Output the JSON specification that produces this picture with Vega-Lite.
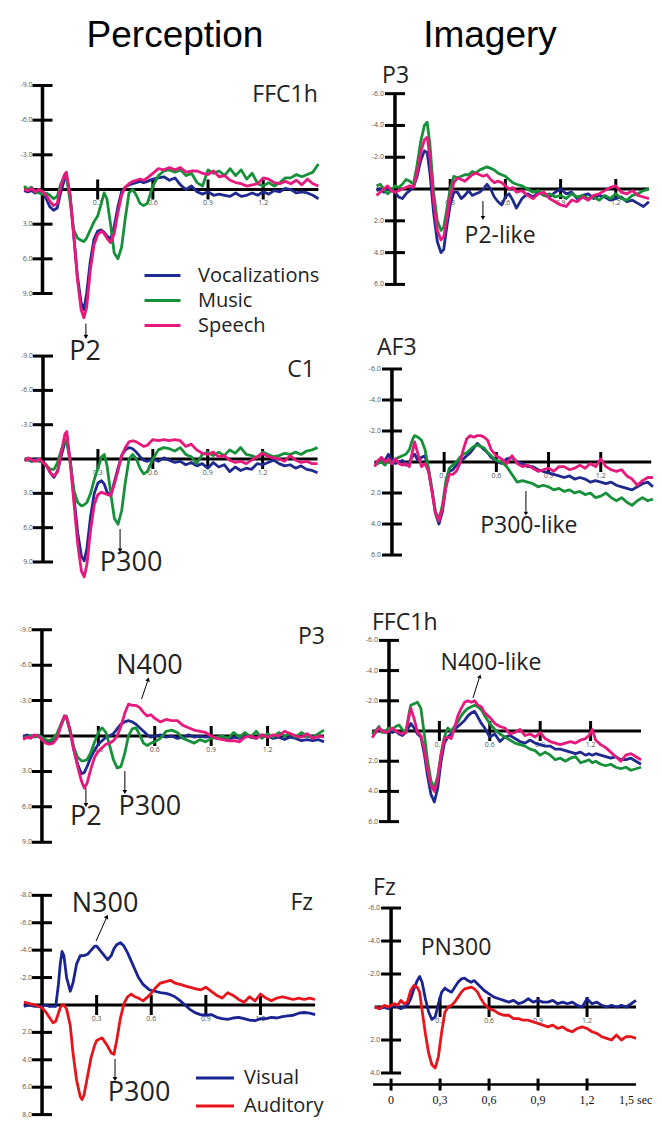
{
"$schema":"https://vega.github.io/schema/vega-lite/v6.json",
"padding":{"top":17,"left":0,"right":0,"bottom":0},
"config":{"view":{"stroke":null},"text":{"font":"Open Sans"}},
"datasets":{
"y9":[{"v":-9,"lab":"-9.0"},{"v":-6,"lab":"-6.0"},{"v":-3,"lab":"-3.0"},{"v":3,"lab":"3.0"},{"v":6,"lab":"6.0"},{"v":9,"lab":"9.0"}],
"y8":[{"v":-8,"lab":"-8.0"},{"v":-6,"lab":"-6.0"},{"v":-4,"lab":"-4.0"},{"v":-2,"lab":"-2.0"},{"v":2,"lab":"2.0"},{"v":4,"lab":"4.0"},{"v":6,"lab":"6.0"},{"v":8,"lab":"8.0"}],
"y6":[{"v":-6,"lab":"-6.0"},{"v":-4,"lab":"-4.0"},{"v":-2,"lab":"-2.0"},{"v":2,"lab":"2.0"},{"v":4,"lab":"4.0"},{"v":6,"lab":"6.0"}],
"y64":[{"v":-6,"lab":"-6.0"},{"v":-4,"lab":"-4.0"},{"v":-2,"lab":"-2.0"},{"v":2,"lab":"2.0"},{"v":4,"lab":"4.0"}],
"xt":[{"t":0.3,"lab":"0.3"},{"t":0.6,"lab":"0.6"},{"t":0.9,"lab":"0.9"},{"t":1.2,"lab":"1.2"}],
"xb":[{"t":0,"lab":"0"},{"t":0.3,"lab":"0,3"},{"t":0.6,"lab":"0,6"},{"t":0.9,"lab":"0,9"},{"t":1.2,"lab":"1,2"}],
"L1":[
{"t":-0.1,"V":0.1,"M":-0.3,"S":0.0},{"t":-0.08,"V":0.2,"M":0.0,"S":0.1},{"t":-0.06,"V":0.1,"M":-0.2,"S":-0.1},{"t":-0.04,"V":0.3,"M":0.2,"S":0.2},{"t":-0.02,"V":0.1,"M":0.3,"S":0.0},
{"t":0.0,"V":0.2,"M":0.4,"S":0.2},{"t":0.02,"V":0.8,"M":0.3,"S":0.5},{"t":0.04,"V":1.5,"M":0.5,"S":1.0},{"t":0.06,"V":1.8,"M":0.8,"S":1.4},{"t":0.08,"V":1.6,"M":0.6,"S":1.2},
{"t":0.1,"V":0.2,"M":-0.5,"S":-0.3},{"t":0.12,"V":-0.9,"M":-1.2,"S":-1.3},{"t":0.13,"V":-1.2,"M":-1.1,"S":-1.5},{"t":0.15,"V":0.5,"M":1.0,"S":0.5},{"t":0.17,"V":4.0,"M":3.5,"S":4.0},
{"t":0.19,"V":7.5,"M":4.2,"S":7.8},{"t":0.21,"V":9.8,"M":4.4,"S":10.4},{"t":0.225,"V":10.4,"M":4.5,"S":11.1},{"t":0.24,"V":9.0,"M":4.2,"S":10.2},{"t":0.26,"V":6.2,"M":3.5,"S":7.0},
{"t":0.28,"V":4.3,"M":2.8,"S":4.8},{"t":0.3,"V":3.6,"M":2.3,"S":3.9},{"t":0.32,"V":3.5,"M":1.2,"S":3.6},{"t":0.335,"V":3.7,"M":0.3,"S":3.8},{"t":0.35,"V":4.0,"M":0.8,"S":4.2},
{"t":0.37,"V":4.3,"M":3.0,"S":4.6},{"t":0.39,"V":3.2,"M":5.5,"S":3.8},{"t":0.41,"V":1.5,"M":6.0,"S":2.0},{"t":0.43,"V":0.2,"M":5.0,"S":0.5},{"t":0.45,"V":-0.2,"M":2.5,"S":-0.2},
{"t":0.47,"V":-0.4,"M":0.3,"S":-0.5},{"t":0.49,"V":-0.5,"M":0.0,"S":-0.7},{"t":0.51,"V":-0.6,"M":0.5,"S":-0.8},{"t":0.53,"V":-0.7,"M":1.2,"S":-0.9},{"t":0.55,"V":-0.6,"M":1.4,"S":-0.8},
{"t":0.57,"V":-0.7,"M":1.2,"S":-1.0},{"t":0.6,"V":-0.9,"M":-0.3,"S":-1.4},{"t":0.63,"V":-1.0,"M":-1.2,"S":-1.8},{"t":0.66,"V":-1.1,"M":-1.6,"S":-1.7},{"t":0.69,"V":-0.8,"M":-1.7,"S":-1.9},
{"t":0.72,"V":-1.0,"M":-1.5,"S":-1.7},{"t":0.75,"V":-0.4,"M":-1.7,"S":-1.9},{"t":0.78,"V":0.0,"M":-1.2,"S":-1.5},{"t":0.81,"V":-0.3,"M":-1.4,"S":-1.6},{"t":0.84,"V":0.2,"M":-0.6,"S":-1.6},
{"t":0.87,"V":0.4,"M":-0.3,"S":-1.4},{"t":0.9,"V":0.2,"M":-1.7,"S":-1.3},{"t":0.93,"V":0.5,"M":-1.4,"S":-1.6},{"t":0.96,"V":0.4,"M":-1.6,"S":-1.1},{"t":0.99,"V":0.5,"M":-1.2,"S":-1.2},
{"t":1.02,"V":0.6,"M":-1.8,"S":-0.8},{"t":1.05,"V":0.3,"M":-1.2,"S":-0.6},{"t":1.08,"V":0.6,"M":-1.7,"S":-0.5},{"t":1.11,"V":0.5,"M":-0.9,"S":-0.3},{"t":1.14,"V":0.3,"M":-1.4,"S":-0.4},
{"t":1.17,"V":0.5,"M":-0.5,"S":-0.5},{"t":1.2,"V":0.2,"M":-0.3,"S":-1.0},{"t":1.23,"V":0.4,"M":-0.6,"S":-0.9},{"t":1.26,"V":0.1,"M":-0.3,"S":-0.6},{"t":1.29,"V":0.2,"M":-0.6,"S":-0.5},
{"t":1.32,"V":-0.1,"M":-1.0,"S":-0.7},{"t":1.35,"V":0.0,"M":-1.0,"S":-0.5},{"t":1.38,"V":0.3,"M":-1.3,"S":-0.8},{"t":1.41,"V":0.2,"M":-1.1,"S":-0.4},{"t":1.44,"V":0.3,"M":-1.3,"S":-0.9},
{"t":1.47,"V":0.5,"M":-1.5,"S":-0.5},{"t":1.5,"V":0.8,"M":-2.2,"S":-0.3}],
"L2":[
{"t":-0.1,"V":0.0,"M":0.1,"S":0.2},{"t":-0.08,"V":0.1,"M":0.0,"S":-0.1},{"t":-0.06,"V":0.2,"M":0.2,"S":0.1},{"t":-0.04,"V":0.0,"M":0.1,"S":0.2},{"t":-0.02,"V":0.1,"M":0.2,"S":0.0},
{"t":0.0,"V":0.2,"M":0.3,"S":0.3},{"t":0.02,"V":0.6,"M":0.6,"S":0.6},{"t":0.04,"V":1.2,"M":0.9,"S":1.2},{"t":0.06,"V":1.6,"M":0.9,"S":1.5},{"t":0.08,"V":1.0,"M":0.3,"S":1.1},
{"t":0.1,"V":-0.3,"M":-0.8,"S":-0.6},{"t":0.12,"V":-1.5,"M":-1.7,"S":-2.2},{"t":0.13,"V":-1.6,"M":-1.6,"S":-2.4},{"t":0.15,"V":0.2,"M":0.5,"S":0.5},{"t":0.17,"V":3.5,"M":2.8,"S":4.0},
{"t":0.19,"V":6.5,"M":3.8,"S":7.5},{"t":0.21,"V":8.5,"M":4.1,"S":9.8},{"t":0.225,"V":8.9,"M":4.0,"S":10.3},{"t":0.24,"V":7.8,"M":3.8,"S":9.2},{"t":0.26,"V":5.0,"M":3.0,"S":6.2},
{"t":0.28,"V":3.0,"M":1.8,"S":4.0},{"t":0.3,"V":2.1,"M":0.8,"S":3.1},{"t":0.32,"V":1.9,"M":-0.2,"S":2.9},{"t":0.335,"V":2.2,"M":-0.4,"S":3.0},{"t":0.35,"V":2.9,"M":0.6,"S":3.1},
{"t":0.37,"V":3.2,"M":3.0,"S":3.2},{"t":0.39,"V":2.0,"M":5.2,"S":2.2},{"t":0.41,"V":0.8,"M":5.7,"S":1.0},{"t":0.43,"V":-0.3,"M":4.5,"S":-0.3},{"t":0.45,"V":-0.8,"M":2.0,"S":-1.0},
{"t":0.47,"V":-1.0,"M":0.0,"S":-1.5},{"t":0.49,"V":-0.9,"M":-0.4,"S":-1.6},{"t":0.51,"V":-0.6,"M":0.0,"S":-1.5},{"t":0.53,"V":-0.2,"M":0.8,"S":-1.3},{"t":0.55,"V":0.1,"M":1.3,"S":-1.1},
{"t":0.57,"V":0.2,"M":1.1,"S":-1.2},{"t":0.6,"V":0.0,"M":0.0,"S":-1.7},{"t":0.63,"V":0.2,"M":-0.8,"S":-1.6},{"t":0.66,"V":-0.1,"M":-1.0,"S":-1.7},{"t":0.69,"V":0.1,"M":-0.9,"S":-1.6},
{"t":0.72,"V":0.3,"M":-0.7,"S":-1.7},{"t":0.75,"V":0.2,"M":-1.0,"S":-1.6},{"t":0.78,"V":0.5,"M":-0.4,"S":-1.1},{"t":0.81,"V":0.3,"M":-0.2,"S":-1.3},{"t":0.84,"V":0.6,"M":0.4,"S":-0.8},
{"t":0.87,"V":0.4,"M":-0.4,"S":-0.5},{"t":0.9,"V":0.8,"M":-0.6,"S":-0.4},{"t":0.93,"V":0.3,"M":-0.3,"S":-0.6},{"t":0.96,"V":0.7,"M":-0.6,"S":-0.2},{"t":0.99,"V":0.5,"M":-0.3,"S":-0.3},
{"t":1.02,"V":1.1,"M":-0.8,"S":0.1},{"t":1.05,"V":0.7,"M":-0.5,"S":0.3},{"t":1.08,"V":1.0,"M":-1.0,"S":0.2},{"t":1.11,"V":0.8,"M":-0.4,"S":0.4},{"t":1.14,"V":0.9,"M":-0.3,"S":0.1},
{"t":1.17,"V":0.4,"M":-0.1,"S":-0.2},{"t":1.2,"V":0.5,"M":-0.6,"S":-0.5},{"t":1.23,"V":0.3,"M":-0.4,"S":-0.2},{"t":1.26,"V":0.1,"M":-0.2,"S":-0.1},{"t":1.29,"V":0.4,"M":-0.3,"S":0.0},
{"t":1.32,"V":0.6,"M":-0.5,"S":0.2},{"t":1.35,"V":0.5,"M":-0.4,"S":-0.3},{"t":1.38,"V":0.8,"M":-0.6,"S":0.1},{"t":1.41,"V":0.6,"M":-0.4,"S":0.3},{"t":1.44,"V":0.9,"M":-0.7,"S":0.2},
{"t":1.47,"V":1.0,"M":-0.8,"S":0.4},{"t":1.5,"V":1.2,"M":-1.0,"S":0.4}],
"L3":[
{"t":-0.1,"V":0.1,"M":0.2,"S":0.3},{"t":-0.08,"V":-0.1,"M":0.1,"S":0.1},{"t":-0.06,"V":0.1,"M":0.0,"S":0.2},{"t":-0.04,"V":0.0,"M":0.1,"S":-0.1},{"t":-0.02,"V":0.0,"M":-0.1,"S":0.0},
{"t":0.0,"V":0.2,"M":0.1,"S":0.3},{"t":0.02,"V":0.4,"M":0.3,"S":0.6},{"t":0.04,"V":0.6,"M":0.4,"S":0.7},{"t":0.06,"V":0.5,"M":0.2,"S":0.6},{"t":0.08,"V":-0.1,"M":-0.2,"S":0.2},
{"t":0.1,"V":-0.9,"M":-0.9,"S":-0.8},{"t":0.12,"V":-1.7,"M":-1.6,"S":-1.7},{"t":0.13,"V":-1.6,"M":-1.7,"S":-1.6},{"t":0.15,"V":-0.4,"M":-0.4,"S":-0.5},{"t":0.17,"V":1.2,"M":1.0,"S":1.2},
{"t":0.19,"V":2.4,"M":1.8,"S":2.6},{"t":0.21,"V":3.2,"M":2.1,"S":3.8},{"t":0.225,"V":3.1,"M":2.1,"S":4.4},{"t":0.24,"V":2.6,"M":2.0,"S":4.0},{"t":0.26,"V":1.8,"M":1.4,"S":2.8},
{"t":0.28,"V":1.2,"M":0.5,"S":1.8},{"t":0.3,"V":0.7,"M":-0.3,"S":1.3},{"t":0.32,"V":0.4,"M":-0.7,"S":1.0},{"t":0.34,"V":0.1,"M":-0.3,"S":0.7},{"t":0.36,"V":0.0,"M":0.8,"S":0.6},
{"t":0.38,"V":-0.2,"M":2.0,"S":0.4},{"t":0.4,"V":-0.6,"M":2.7,"S":0.0},{"t":0.42,"V":-1.0,"M":2.6,"S":-0.8},{"t":0.44,"V":-1.2,"M":1.5,"S":-1.9},{"t":0.46,"V":-1.3,"M":0.0,"S":-2.7},
{"t":0.48,"V":-1.2,"M":-0.6,"S":-2.6},{"t":0.5,"V":-1.0,"M":-0.7,"S":-2.6},{"t":0.52,"V":-0.7,"M":-0.1,"S":-2.4},{"t":0.54,"V":-0.4,"M":0.6,"S":-2.0},{"t":0.56,"V":-0.1,"M":0.8,"S":-1.7},
{"t":0.58,"V":0.1,"M":0.6,"S":-1.8},{"t":0.6,"V":0.0,"M":0.5,"S":-1.5},{"t":0.63,"V":-0.1,"M":0.2,"S":-1.2},{"t":0.66,"V":0.1,"M":-0.4,"S":-1.4},{"t":0.69,"V":0.0,"M":-0.5,"S":-1.3},
{"t":0.72,"V":0.2,"M":-0.3,"S":-1.3},{"t":0.75,"V":0.1,"M":0.2,"S":-0.9},{"t":0.78,"V":-0.1,"M":0.4,"S":-0.7},{"t":0.81,"V":0.1,"M":0.6,"S":-0.5},{"t":0.84,"V":0.0,"M":0.3,"S":-0.4},
{"t":0.87,"V":0.1,"M":0.5,"S":-0.3},{"t":0.9,"V":0.0,"M":0.2,"S":0.0},{"t":0.93,"V":0.2,"M":0.1,"S":0.2},{"t":0.96,"V":0.1,"M":0.0,"S":0.3},{"t":0.99,"V":0.3,"M":0.2,"S":0.4},
{"t":1.02,"V":0.1,"M":-0.3,"S":0.4},{"t":1.05,"V":0.2,"M":0.1,"S":0.5},{"t":1.08,"V":-0.1,"M":-0.3,"S":0.1},{"t":1.11,"V":0.1,"M":0.1,"S":0.0},{"t":1.14,"V":0.2,"M":-0.4,"S":0.2},
{"t":1.17,"V":-0.1,"M":0.2,"S":-0.1},{"t":1.2,"V":0.0,"M":-0.2,"S":0.1},{"t":1.23,"V":0.2,"M":0.1,"S":-0.1},{"t":1.26,"V":0.1,"M":-0.3,"S":0.0},{"t":1.29,"V":0.3,"M":0.0,"S":-0.4},
{"t":1.32,"V":0.1,"M":-0.2,"S":-0.2},{"t":1.35,"V":0.2,"M":0.1,"S":0.0},{"t":1.38,"V":0.4,"M":-0.3,"S":0.1},{"t":1.41,"V":0.3,"M":0.0,"S":-0.2},{"t":1.44,"V":0.4,"M":0.1,"S":0.2},
{"t":1.47,"V":0.3,"M":-0.2,"S":0.0},{"t":1.5,"V":0.5,"M":-0.5,"S":0.1}],
"L4":[
{"t":-0.1,"Vis":0.1,"Aud":-0.2},{"t":-0.07,"Vis":0.0,"Aud":-0.1},{"t":-0.04,"Vis":0.1,"Aud":0.0},{"t":-0.02,"Vis":0.1,"Aud":0.1},{"t":0.0,"Vis":0.1,"Aud":0.2},
{"t":0.02,"Vis":0.0,"Aud":0.5},{"t":0.04,"Vis":0.1,"Aud":0.9},{"t":0.06,"Vis":0.1,"Aud":1.3},{"t":0.075,"Vis":0.1,"Aud":1.2},{"t":0.09,"Vis":-1.5,"Aud":0.6},
{"t":0.1,"Vis":-3.0,"Aud":0.2},{"t":0.11,"Vis":-3.9,"Aud":0.0},{"t":0.12,"Vis":-3.6,"Aud":0.0},{"t":0.135,"Vis":-2.0,"Aud":0.3},{"t":0.155,"Vis":-1.0,"Aud":1.5},
{"t":0.17,"Vis":-1.6,"Aud":3.5},{"t":0.19,"Vis":-3.0,"Aud":5.5},{"t":0.21,"Vis":-3.6,"Aud":6.7},{"t":0.22,"Vis":-3.6,"Aud":6.9},{"t":0.23,"Vis":-3.6,"Aud":6.6},
{"t":0.25,"Vis":-3.7,"Aud":5.2},{"t":0.27,"Vis":-4.0,"Aud":3.8},{"t":0.29,"Vis":-4.3,"Aud":2.9},{"t":0.3,"Vis":-4.3,"Aud":2.6},{"t":0.33,"Vis":-3.8,"Aud":2.4},
{"t":0.36,"Vis":-3.3,"Aud":3.0},{"t":0.38,"Vis":-3.6,"Aud":3.5},{"t":0.395,"Vis":-4.1,"Aud":3.6},{"t":0.41,"Vis":-4.4,"Aud":2.6},{"t":0.43,"Vis":-4.55,"Aud":1.0},
{"t":0.45,"Vis":-4.3,"Aud":-0.1},{"t":0.47,"Vis":-3.8,"Aud":-0.6},{"t":0.49,"Vis":-3.2,"Aud":-0.8},{"t":0.51,"Vis":-2.6,"Aud":-0.6},{"t":0.53,"Vis":-2.0,"Aud":-0.5},
{"t":0.555,"Vis":-1.5,"Aud":-0.3},{"t":0.59,"Vis":-1.1,"Aud":-0.7},{"t":0.62,"Vis":-1.0,"Aud":-1.2},{"t":0.65,"Vis":-0.9,"Aud":-1.6},{"t":0.68,"Vis":-0.85,"Aud":-1.7},
{"t":0.705,"Vis":-0.75,"Aud":-1.8},{"t":0.73,"Vis":-0.6,"Aud":-1.6},{"t":0.76,"Vis":-0.3,"Aud":-1.5},{"t":0.785,"Vis":0.0,"Aud":-1.4},{"t":0.81,"Vis":0.3,"Aud":-1.3},
{"t":0.84,"Vis":0.56,"Aud":-1.2},{"t":0.87,"Vis":0.7,"Aud":-1.1},{"t":0.9,"Vis":0.75,"Aud":-1.3},{"t":0.93,"Vis":0.7,"Aud":-1.0},{"t":0.96,"Vis":0.9,"Aud":-0.7},
{"t":0.99,"Vis":1.0,"Aud":-0.5},{"t":1.02,"Vis":1.05,"Aud":-0.9},{"t":1.05,"Vis":0.95,"Aud":-0.7},{"t":1.08,"Vis":0.9,"Aud":-0.4},{"t":1.11,"Vis":1.0,"Aud":-0.2},
{"t":1.14,"Vis":1.1,"Aud":-0.6},{"t":1.17,"Vis":1.15,"Aud":-0.3},{"t":1.2,"Vis":1.0,"Aud":-0.8},{"t":1.23,"Vis":1.0,"Aud":-0.5},{"t":1.26,"Vis":0.9,"Aud":-0.3},
{"t":1.29,"Vis":0.95,"Aud":-0.5},{"t":1.32,"Vis":0.85,"Aud":-0.6},{"t":1.35,"Vis":0.8,"Aud":-0.5},{"t":1.38,"Vis":0.75,"Aud":-0.4},{"t":1.41,"Vis":0.6,"Aud":-0.5},
{"t":1.44,"Vis":0.55,"Aud":-0.4},{"t":1.47,"Vis":0.6,"Aud":-0.5},{"t":1.5,"Vis":0.7,"Aud":-0.4}],
"R1":[
{"t":-0.1,"V":0.1,"M":-0.2,"S":0.4},{"t":-0.08,"V":0.0,"M":-0.3,"S":0.2},{"t":-0.06,"V":0.2,"M":0.0,"S":0.0},{"t":-0.04,"V":0.0,"M":0.3,"S":-0.2},{"t":-0.02,"V":0.1,"M":0.1,"S":0.1},
{"t":0.0,"V":0.2,"M":-0.2,"S":0.2},{"t":0.02,"V":0.5,"M":-0.1,"S":0.1},{"t":0.04,"V":0.6,"M":-0.3,"S":0.0},{"t":0.06,"V":0.3,"M":-0.6,"S":-0.1},{"t":0.08,"V":0.1,"M":-0.5,"S":-0.2},
{"t":0.1,"V":-0.1,"M":-0.3,"S":-0.1},{"t":0.12,"V":-0.8,"M":-1.5,"S":-1.0},{"t":0.14,"V":-1.8,"M":-3.0,"S":-2.3},{"t":0.16,"V":-2.4,"M":-4.0,"S":-3.1},{"t":0.175,"V":-2.3,"M":-4.2,"S":-3.25},
{"t":0.19,"V":-1.0,"M":-2.8,"S":-2.0},{"t":0.21,"V":1.5,"M":0.2,"S":0.8},{"t":0.23,"V":3.3,"M":2.0,"S":2.6},{"t":0.25,"V":4.0,"M":2.6,"S":3.2},{"t":0.265,"V":3.8,"M":2.4,"S":3.0},
{"t":0.28,"V":2.5,"M":1.4,"S":2.0},{"t":0.3,"V":1.0,"M":0.0,"S":0.5},{"t":0.32,"V":0.2,"M":-0.8,"S":-0.4},{"t":0.34,"V":0.2,"M":-0.7,"S":-0.7},{"t":0.36,"V":0.6,"M":-0.8,"S":-0.6},
{"t":0.38,"V":0.4,"M":-0.9,"S":-0.5},{"t":0.4,"V":0.1,"M":-0.9,"S":-0.7},{"t":0.42,"V":0.4,"M":-1.1,"S":-0.9},{"t":0.44,"V":0.3,"M":-1.0,"S":-1.0},{"t":0.46,"V":0.2,"M":-1.2,"S":-0.9},
{"t":0.48,"V":0.0,"M":-1.3,"S":-0.8},{"t":0.5,"V":-0.3,"M":-1.4,"S":-0.9},{"t":0.52,"V":0.0,"M":-1.3,"S":-0.6},{"t":0.54,"V":0.5,"M":-1.2,"S":-0.4},{"t":0.56,"V":0.8,"M":-1.0,"S":-0.5},
{"t":0.58,"V":1.0,"M":-0.9,"S":-0.4},{"t":0.6,"V":0.5,"M":-0.8,"S":-0.2},{"t":0.62,"V":0.3,"M":-0.6,"S":0.0},{"t":0.64,"V":0.7,"M":-0.4,"S":-0.1},{"t":0.66,"V":1.2,"M":-0.3,"S":0.2},
{"t":0.69,"V":0.6,"M":-0.2,"S":0.1},{"t":0.72,"V":0.3,"M":0.0,"S":0.4},{"t":0.75,"V":0.5,"M":0.2,"S":0.6},{"t":0.78,"V":0.2,"M":0.1,"S":0.3},{"t":0.81,"V":0.4,"M":0.4,"S":0.2},
{"t":0.84,"V":0.5,"M":0.3,"S":0.6},{"t":0.87,"V":0.2,"M":0.5,"S":0.8},{"t":0.9,"V":0.0,"M":0.4,"S":1.0},{"t":0.93,"V":0.3,"M":0.6,"S":1.1},{"t":0.96,"V":0.2,"M":0.3,"S":0.7},
{"t":0.99,"V":0.6,"M":0.5,"S":0.8},{"t":1.02,"V":0.4,"M":0.4,"S":0.5},{"t":1.05,"V":0.3,"M":0.6,"S":0.7},{"t":1.08,"V":0.6,"M":0.5,"S":0.4},{"t":1.11,"V":0.4,"M":0.7,"S":0.3},
{"t":1.14,"V":0.5,"M":0.4,"S":0.1},{"t":1.17,"V":0.7,"M":0.6,"S":-0.1},{"t":1.2,"V":0.6,"M":0.3,"S":-0.2},{"t":1.23,"V":0.5,"M":0.6,"S":0.2},{"t":1.26,"V":0.8,"M":0.7,"S":0.3},
{"t":1.29,"V":0.7,"M":0.4,"S":0.1},{"t":1.32,"V":0.9,"M":0.3,"S":0.4},{"t":1.35,"V":1.1,"M":0.1,"S":0.5},{"t":1.38,"V":0.8,"M":0.0,"S":0.6}],
"R2":[
{"t":-0.1,"V":0.1,"M":0.2,"S":0.3},{"t":-0.08,"V":0.0,"M":0.1,"S":-0.1},{"t":-0.06,"V":-0.2,"M":0.0,"S":-0.3},{"t":-0.04,"V":-0.1,"M":0.2,"S":0.0},{"t":-0.02,"V":-0.5,"M":-0.1,"S":-0.2},
{"t":0.0,"V":-0.1,"M":0.1,"S":0.1},{"t":0.02,"V":0.1,"M":-0.2,"S":-0.2},{"t":0.04,"V":0.0,"M":-0.3,"S":0.1},{"t":0.06,"V":-0.1,"M":-0.4,"S":0.2},{"t":0.08,"V":0.2,"M":-0.5,"S":0.1},
{"t":0.1,"V":0.0,"M":-0.8,"S":0.3},{"t":0.12,"V":-0.4,"M":-1.5,"S":-0.8},{"t":0.13,"V":-0.5,"M":-1.7,"S":-1.3},{"t":0.15,"V":-0.1,"M":-1.6,"S":-0.5},{"t":0.17,"V":-0.3,"M":-1.4,"S":0.3},
{"t":0.19,"V":-0.4,"M":-0.8,"S":0.1},{"t":0.21,"V":0.5,"M":0.4,"S":0.6},{"t":0.23,"V":1.8,"M":1.8,"S":1.9},{"t":0.25,"V":3.3,"M":3.2,"S":3.3},{"t":0.27,"V":4.0,"M":3.7,"S":3.8},
{"t":0.29,"V":3.2,"M":2.8,"S":3.0},{"t":0.31,"V":1.6,"M":1.2,"S":1.6},{"t":0.33,"V":0.6,"M":0.4,"S":0.8},{"t":0.35,"V":0.5,"M":0.2,"S":0.8},{"t":0.37,"V":0.2,"M":0.0,"S":0.6},
{"t":0.39,"V":0.0,"M":-0.3,"S":0.1},{"t":0.41,"V":-0.2,"M":-0.5,"S":-0.8},{"t":0.43,"V":-0.4,"M":-0.6,"S":-1.5},{"t":0.45,"V":-0.6,"M":-0.8,"S":-1.7},{"t":0.47,"V":-0.9,"M":-1.0,"S":-1.6},
{"t":0.49,"V":-1.2,"M":-1.1,"S":-1.7},{"t":0.51,"V":-1.0,"M":-1.0,"S":-1.7},{"t":0.53,"V":-0.8,"M":-0.9,"S":-1.6},{"t":0.55,"V":-0.6,"M":-0.6,"S":-1.4},{"t":0.57,"V":-0.3,"M":-0.4,"S":-0.8},
{"t":0.6,"V":-0.1,"M":-0.1,"S":-0.4},{"t":0.63,"V":0.1,"M":0.0,"S":-0.2},{"t":0.66,"V":-0.2,"M":0.3,"S":0.1},{"t":0.69,"V":-0.3,"M":0.8,"S":-0.4},{"t":0.72,"V":0.0,"M":1.3,"S":0.1},
{"t":0.75,"V":0.1,"M":1.2,"S":0.3},{"t":0.78,"V":0.3,"M":1.3,"S":0.2},{"t":0.81,"V":0.3,"M":1.4,"S":0.4},{"t":0.84,"V":0.5,"M":1.6,"S":0.6},{"t":0.87,"V":0.6,"M":1.5,"S":0.5},
{"t":0.9,"V":0.7,"M":1.6,"S":0.4},{"t":0.93,"V":0.8,"M":1.8,"S":0.6},{"t":0.96,"V":0.9,"M":1.7,"S":0.3},{"t":0.99,"V":1.0,"M":1.9,"S":0.3},{"t":1.02,"V":0.9,"M":1.8,"S":0.5},
{"t":1.05,"V":1.1,"M":2.0,"S":0.4},{"t":1.08,"V":1.0,"M":1.9,"S":0.2},{"t":1.11,"V":1.1,"M":2.1,"S":0.4},{"t":1.14,"V":1.3,"M":2.0,"S":0.1},{"t":1.17,"V":1.2,"M":2.3,"S":0.3},
{"t":1.2,"V":1.3,"M":2.2,"S":-0.2},{"t":1.23,"V":1.4,"M":2.0,"S":0.3},{"t":1.26,"V":1.3,"M":2.3,"S":0.5},{"t":1.29,"V":1.5,"M":2.5,"S":0.6},{"t":1.32,"V":1.6,"M":2.3,"S":0.5},
{"t":1.35,"V":1.7,"M":2.6,"S":0.9},{"t":1.38,"V":1.8,"M":2.8,"S":1.1},{"t":1.41,"V":1.6,"M":2.5,"S":1.5},{"t":1.44,"V":1.4,"M":2.3,"S":1.2},{"t":1.47,"V":1.3,"M":2.5,"S":1.0},
{"t":1.5,"V":1.6,"M":2.4,"S":1.0}],
"R3":[
{"t":-0.1,"V":0.2,"M":0.2,"S":0.45},{"t":-0.08,"V":0.1,"M":0.0,"S":0.1},{"t":-0.06,"V":-0.2,"M":-0.3,"S":-0.2},{"t":-0.04,"V":0.0,"M":0.1,"S":0.0},{"t":-0.02,"V":0.1,"M":0.0,"S":0.1},
{"t":0.0,"V":0.0,"M":-0.2,"S":0.0},{"t":0.02,"V":0.1,"M":-0.1,"S":-0.2},{"t":0.04,"V":0.0,"M":-0.3,"S":0.0},{"t":0.06,"V":0.2,"M":-0.4,"S":0.1},{"t":0.08,"V":0.3,"M":-0.1,"S":0.2},
{"t":0.1,"V":0.1,"M":0.1,"S":0.1},{"t":0.12,"V":-0.3,"M":-1.2,"S":-1.0},{"t":0.13,"V":-0.5,"M":-1.7,"S":-1.5},{"t":0.15,"V":-0.2,"M":-1.8,"S":-0.8},{"t":0.17,"V":0.2,"M":-1.9,"S":0.1},
{"t":0.19,"V":0.4,"M":-1.5,"S":0.3},{"t":0.21,"V":1.5,"M":0.2,"S":1.2},{"t":0.23,"V":3.0,"M":2.0,"S":2.6},{"t":0.25,"V":4.2,"M":3.3,"S":3.6},{"t":0.27,"V":4.7,"M":3.75,"S":4.0},
{"t":0.29,"V":3.8,"M":3.0,"S":3.2},{"t":0.31,"V":2.0,"M":1.5,"S":1.6},{"t":0.33,"V":0.8,"M":0.4,"S":0.5},{"t":0.35,"V":0.4,"M":-0.2,"S":0.4},{"t":0.37,"V":0.2,"M":0.0,"S":0.5},
{"t":0.39,"V":-0.1,"M":-0.3,"S":-0.2},{"t":0.41,"V":-0.3,"M":-0.6,"S":-1.0},{"t":0.43,"V":-0.5,"M":-1.0,"S":-1.5},{"t":0.45,"V":-0.7,"M":-1.3,"S":-1.9},{"t":0.47,"V":-1.0,"M":-1.5,"S":-2.0},
{"t":0.49,"V":-1.2,"M":-1.6,"S":-1.9},{"t":0.51,"V":-1.3,"M":-1.7,"S":-2.0},{"t":0.53,"V":-0.9,"M":-1.6,"S":-1.7},{"t":0.55,"V":-0.5,"M":-1.4,"S":-1.6},{"t":0.57,"V":-0.2,"M":-1.0,"S":-1.2},
{"t":0.6,"V":0.4,"M":-0.5,"S":-0.9},{"t":0.63,"V":0.2,"M":-0.1,"S":-0.5},{"t":0.66,"V":0.7,"M":0.2,"S":-0.3},{"t":0.69,"V":0.4,"M":0.4,"S":-0.2},{"t":0.72,"V":0.3,"M":0.6,"S":0.2},
{"t":0.75,"V":0.5,"M":0.8,"S":0.1},{"t":0.78,"V":0.7,"M":0.9,"S":-0.1},{"t":0.81,"V":0.8,"M":1.0,"S":0.3},{"t":0.84,"V":0.6,"M":1.2,"S":0.2},{"t":0.87,"V":0.8,"M":1.3,"S":0.4},
{"t":0.9,"V":0.9,"M":1.6,"S":0.1},{"t":0.93,"V":1.0,"M":1.4,"S":0.5},{"t":0.96,"V":1.0,"M":1.6,"S":0.7},{"t":0.99,"V":1.2,"M":1.9,"S":0.8},{"t":1.02,"V":1.2,"M":1.8,"S":0.9},
{"t":1.05,"V":1.3,"M":2.0,"S":0.8},{"t":1.08,"V":1.4,"M":1.8,"S":0.7},{"t":1.11,"V":1.5,"M":1.7,"S":0.8},{"t":1.14,"V":1.4,"M":2.1,"S":0.6},{"t":1.17,"V":1.6,"M":2.0,"S":0.5},
{"t":1.19,"V":1.5,"M":1.9,"S":0.3},{"t":1.21,"V":1.6,"M":2.1,"S":-0.1},{"t":1.23,"V":1.5,"M":2.0,"S":0.6},{"t":1.26,"V":1.6,"M":2.2,"S":0.9},{"t":1.29,"V":1.7,"M":2.3,"S":1.1},
{"t":1.32,"V":1.8,"M":2.2,"S":1.4},{"t":1.35,"V":1.7,"M":2.4,"S":1.7},{"t":1.38,"V":1.9,"M":2.5,"S":2.0},{"t":1.41,"V":1.9,"M":2.4,"S":1.6},{"t":1.44,"V":1.8,"M":2.6,"S":1.5},
{"t":1.47,"V":2.0,"M":2.5,"S":1.7},{"t":1.5,"V":2.2,"M":2.4,"S":1.9}],
"R4":[
{"t":-0.1,"Vis":0.0,"Aud":0.0},{"t":-0.07,"Vis":0.1,"Aud":0.1},{"t":-0.04,"Vis":0.0,"Aud":-0.1},{"t":-0.02,"Vis":0.1,"Aud":0.0},{"t":0.0,"Vis":0.0,"Aud":-0.1},
{"t":0.02,"Vis":-0.1,"Aud":-0.2},{"t":0.04,"Vis":0.0,"Aud":-0.1},{"t":0.06,"Vis":0.1,"Aud":-0.4},{"t":0.08,"Vis":0.0,"Aud":-0.2},{"t":0.1,"Vis":-0.1,"Aud":-0.3},
{"t":0.12,"Vis":-0.5,"Aud":-1.0},{"t":0.14,"Vis":-1.1,"Aud":-1.3},{"t":0.16,"Vis":-1.6,"Aud":-1.2},{"t":0.175,"Vis":-1.85,"Aud":-0.9},{"t":0.19,"Vis":-1.5,"Aud":0.2},
{"t":0.21,"Vis":-0.5,"Aud":1.6},{"t":0.23,"Vis":0.3,"Aud":2.8},{"t":0.25,"Vis":0.75,"Aud":3.5},{"t":0.27,"Vis":0.6,"Aud":3.7},{"t":0.29,"Vis":-0.2,"Aud":3.0},
{"t":0.31,"Vis":-0.9,"Aud":1.5},{"t":0.33,"Vis":-1.15,"Aud":0.3},{"t":0.35,"Vis":-1.0,"Aud":0.0},{"t":0.37,"Vis":-0.9,"Aud":-0.1},{"t":0.39,"Vis":-1.2,"Aud":-0.3},
{"t":0.41,"Vis":-1.5,"Aud":-0.6},{"t":0.43,"Vis":-1.7,"Aud":-0.9},{"t":0.45,"Vis":-1.75,"Aud":-1.1},{"t":0.47,"Vis":-1.6,"Aud":-1.15},{"t":0.49,"Vis":-1.5,"Aud":-1.2},
{"t":0.51,"Vis":-1.6,"Aud":-1.1},{"t":0.53,"Vis":-1.4,"Aud":-0.9},{"t":0.55,"Vis":-1.2,"Aud":-0.5},{"t":0.57,"Vis":-1.0,"Aud":-0.2},{"t":0.6,"Vis":-0.8,"Aud":0.1},
{"t":0.63,"Vis":-0.6,"Aud":0.2},{"t":0.66,"Vis":-0.5,"Aud":0.4},{"t":0.69,"Vis":-0.4,"Aud":0.5},{"t":0.72,"Vis":-0.3,"Aud":0.5},{"t":0.75,"Vis":-0.4,"Aud":0.7},
{"t":0.78,"Vis":-0.2,"Aud":0.7},{"t":0.81,"Vis":-0.3,"Aud":0.8},{"t":0.84,"Vis":-0.5,"Aud":0.8},{"t":0.87,"Vis":-0.3,"Aud":0.9},{"t":0.9,"Vis":-0.4,"Aud":1.0},
{"t":0.93,"Vis":-0.3,"Aud":1.1},{"t":0.96,"Vis":-0.3,"Aud":1.2},{"t":0.99,"Vis":-0.4,"Aud":1.1},{"t":1.02,"Vis":-0.2,"Aud":1.3},{"t":1.05,"Vis":-0.3,"Aud":1.2},
{"t":1.08,"Vis":-0.2,"Aud":1.4},{"t":1.11,"Vis":-0.3,"Aud":1.5},{"t":1.14,"Vis":-0.1,"Aud":1.3},{"t":1.17,"Vis":0.0,"Aud":1.2},{"t":1.2,"Vis":-0.5,"Aud":1.3},
{"t":1.23,"Vis":-0.2,"Aud":1.5},{"t":1.26,"Vis":-0.3,"Aud":1.6},{"t":1.29,"Vis":-0.1,"Aud":1.8},{"t":1.32,"Vis":0.0,"Aud":1.9},{"t":1.35,"Vis":-0.1,"Aud":2.0},
{"t":1.38,"Vis":0.0,"Aud":1.7},{"t":1.41,"Vis":-0.1,"Aud":2.0},{"t":1.44,"Vis":0.0,"Aud":1.8},{"t":1.47,"Vis":-0.2,"Aud":1.8},{"t":1.5,"Vis":-0.4,"Aud":1.9}]
},
"hconcat":[
{"title":{"text":"Perception","font":"Liberation Sans","fontSize":37,"fontWeight":"normal","color":"#000","anchor":"middle","dx":10,"offset":4},
 "spacing":0,"bounds":"flush",
 "resolve":{"scale":{"x":"independent","y":"independent","color":"independent"},"legend":{"color":"independent"}},
 "vconcat":[
 {"width":330,"height":287,"layer":[
  {"data":{"values":[{}]},"mark":{"type":"rule","color":"black","strokeWidth":3},"encoding":{"x":{"datum":-0.1,"type":"quantitative","scale":{"domain":[-0.231,1.563],"nice":false,"zero":false},"axis":null},"x2":{"datum":1.5},"y":{"datum":0,"type":"quantitative","scale":{"domain":[-11.29,13.54],"reverse":true,"nice":false,"zero":false},"axis":null}}},
  {"data":{"values":[{}]},"mark":{"type":"rule","color":"black","strokeWidth":3.5},"encoding":{"x":{"datum":0},"y":{"datum":-9},"y2":{"datum":9}}},
  {"data":{"name":"y9"},"mark":{"type":"tick","orient":"horizontal","size":20,"thickness":3,"color":"black","opacity":1},"encoding":{"x":{"datum":0},"y":{"field":"v","type":"quantitative"}}},
  {"data":{"name":"y9"},"mark":{"type":"text","fontSize":7,"align":"right","baseline":"middle","dx":-10,"color":"#555"},"encoding":{"x":{"datum":0},"y":{"field":"v","type":"quantitative"},"text":{"field":"lab"}}},
  {"data":{"name":"xt"},"mark":{"type":"tick","orient":"vertical","size":20,"thickness":3,"color":"black","opacity":1},"encoding":{"x":{"field":"t","type":"quantitative"},"y":{"datum":0}}},
  {"data":{"name":"xt"},"mark":{"type":"text","fontSize":7,"dy":14,"color":"#555"},"encoding":{"x":{"field":"t","type":"quantitative"},"y":{"datum":0},"text":{"field":"lab"}}},
  {"data":{"name":"L1"},"transform":[{"fold":["V","M","S"],"as":["k","uV"]}],"mark":{"type":"line","strokeWidth":2.8,"strokeJoin":"round"},"encoding":{"x":{"field":"t","type":"quantitative"},"y":{"field":"uV","type":"quantitative"},"color":{"field":"k","type":"nominal","scale":{"domain":["V","M","S"],"range":["#1f2a8e","#17903a","#e8197c"]},"legend":{"orient":"bottom-right","offset":10,"title":null,"labelFont":"Open Sans","labelFontSize":20,"labelColor":"#222","symbolType":"M-2,0H2","symbolSize":324,"symbolStrokeWidth":2.8,"labelOffset":25,"rowPadding":4,"labelExpr":"datum.label == 'V' ? 'Vocalizations' : datum.label == 'M' ? 'Music' : 'Speech'"}}}},
  {"data":{"values":[{}]},"mark":{"type":"text","text":"FFC1h","fontSize":23,"align":"right","baseline":"middle","color":"#222"},"encoding":{"x":{"datum":1.497},"y":{"datum":-8.17}}},
  {"data":{"values":[{}]},"mark":{"type":"rule","color":"black","strokeWidth":1},"encoding":{"x":{"datum":0.236},"y":{"datum":11.6},"y2":{"datum":12.6}}},
  {"data":{"values":[{}]},"mark":{"type":"point","shape":"triangle-down","size":22,"filled":true,"color":"black","opacity":1},"encoding":{"x":{"datum":0.236},"y":{"datum":12.75}}},
  {"data":{"values":[{}]},"mark":{"type":"text","text":"P2","fontSize":27,"baseline":"middle","color":"#222"},"encoding":{"x":{"datum":0.231},"y":{"datum":14.06}}}
 ]},
 {"width":330,"height":255,"layer":[
  {"data":{"values":[{}]},"mark":{"type":"rule","color":"black","strokeWidth":3},"encoding":{"x":{"datum":-0.1,"type":"quantitative","scale":{"domain":[-0.235,1.568],"nice":false,"zero":false},"axis":null},"x2":{"datum":1.5},"y":{"datum":0,"type":"quantitative","scale":{"domain":[-9.88,12.41],"reverse":true,"nice":false,"zero":false},"axis":null}}},
  {"data":{"values":[{}]},"mark":{"type":"rule","color":"black","strokeWidth":3.5},"encoding":{"x":{"datum":0},"y":{"datum":-9},"y2":{"datum":9}}},
  {"data":{"name":"y9"},"mark":{"type":"tick","orient":"horizontal","size":20,"thickness":3,"color":"black","opacity":1},"encoding":{"x":{"datum":0},"y":{"field":"v","type":"quantitative"}}},
  {"data":{"name":"y9"},"mark":{"type":"text","fontSize":7,"align":"right","baseline":"middle","dx":-10,"color":"#555"},"encoding":{"x":{"datum":0},"y":{"field":"v","type":"quantitative"},"text":{"field":"lab"}}},
  {"data":{"name":"xt"},"mark":{"type":"tick","orient":"vertical","size":20,"thickness":3,"color":"black","opacity":1},"encoding":{"x":{"field":"t","type":"quantitative"},"y":{"datum":0}}},
  {"data":{"name":"xt"},"mark":{"type":"text","fontSize":7,"dy":14,"color":"#555"},"encoding":{"x":{"field":"t","type":"quantitative"},"y":{"datum":0},"text":{"field":"lab"}}},
  {"data":{"name":"L2"},"transform":[{"fold":["V","M","S"],"as":["k","uV"]}],"mark":{"type":"line","strokeWidth":2.8,"strokeJoin":"round"},"encoding":{"x":{"field":"t","type":"quantitative"},"y":{"field":"uV","type":"quantitative"},"color":{"field":"k","type":"nominal","scale":{"domain":["V","M","S"],"range":["#1f2a8e","#17903a","#e8197c"]},"legend":null}}},
  {"data":{"values":[{}]},"mark":{"type":"text","text":"C1","fontSize":23,"align":"right","baseline":"middle","color":"#222"},"encoding":{"x":{"datum":1.486},"y":{"datum":-7.78}}},
  {"data":{"values":[{}]},"mark":{"type":"rule","color":"black","strokeWidth":1},"encoding":{"x":{"datum":0.421},"y":{"datum":6.12},"y2":{"datum":7.9}}},
  {"data":{"values":[{}]},"mark":{"type":"point","shape":"triangle-down","size":22,"filled":true,"color":"black","opacity":1},"encoding":{"x":{"datum":0.421},"y":{"datum":8.0}}},
  {"data":{"values":[{}]},"mark":{"type":"text","text":"P300","fontSize":27,"baseline":"middle","color":"#222"},"encoding":{"x":{"datum":0.481},"y":{"datum":9.09}}}
 ]},
 {"width":330,"height":262,"layer":[
  {"data":{"values":[{}]},"mark":{"type":"rule","color":"black","strokeWidth":3},"encoding":{"x":{"datum":-0.1,"type":"quantitative","scale":{"domain":[-0.223,1.532],"nice":false,"zero":false},"axis":null},"x2":{"datum":1.5},"y":{"datum":0,"type":"quantitative","scale":{"domain":[-11.44,10.76],"reverse":true,"nice":false,"zero":false},"axis":null}}},
  {"data":{"values":[{}]},"mark":{"type":"rule","color":"black","strokeWidth":3.5},"encoding":{"x":{"datum":0},"y":{"datum":-9},"y2":{"datum":9}}},
  {"data":{"name":"y9"},"mark":{"type":"tick","orient":"horizontal","size":20,"thickness":3,"color":"black","opacity":1},"encoding":{"x":{"datum":0},"y":{"field":"v","type":"quantitative"}}},
  {"data":{"name":"y9"},"mark":{"type":"text","fontSize":7,"align":"right","baseline":"middle","dx":-10,"color":"#555"},"encoding":{"x":{"datum":0},"y":{"field":"v","type":"quantitative"},"text":{"field":"lab"}}},
  {"data":{"name":"xt"},"mark":{"type":"tick","orient":"vertical","size":20,"thickness":3,"color":"black","opacity":1},"encoding":{"x":{"field":"t","type":"quantitative"},"y":{"datum":0}}},
  {"data":{"name":"xt"},"mark":{"type":"text","fontSize":7,"dy":14,"color":"#555"},"encoding":{"x":{"field":"t","type":"quantitative"},"y":{"datum":0},"text":{"field":"lab"}}},
  {"data":{"name":"L3"},"transform":[{"fold":["V","M","S"],"as":["k","uV"]}],"mark":{"type":"line","strokeWidth":2.8,"strokeJoin":"round"},"encoding":{"x":{"field":"t","type":"quantitative"},"y":{"field":"uV","type":"quantitative"},"color":{"field":"k","type":"nominal","scale":{"domain":["V","M","S"],"range":["#1f2a8e","#17903a","#e8197c"]},"legend":null}}},
  {"data":{"values":[{}]},"mark":{"type":"text","text":"P3","fontSize":23,"align":"right","baseline":"middle","color":"#222"},"encoding":{"x":{"datum":1.505},"y":{"datum":-8.39}}},
  {"data":{"values":[{}]},"mark":{"type":"rule","color":"black","strokeWidth":1},"encoding":{"x":{"datum":0.53},"y":{"datum":-3.14},"x2":{"datum":0.562},"y2":{"datum":-4.65}}},
  {"data":{"values":[{}]},"mark":{"type":"point","shape":"triangle-up","angle":17,"size":22,"filled":true,"color":"black","opacity":1},"encoding":{"x":{"datum":0.565},"y":{"datum":-4.8}}},
  {"data":{"values":[{}]},"mark":{"type":"text","text":"N400","fontSize":27,"baseline":"middle","color":"#222"},"encoding":{"x":{"datum":0.572},"y":{"datum":-5.93}}},
  {"data":{"values":[{}]},"mark":{"type":"rule","color":"black","strokeWidth":1},"encoding":{"x":{"datum":0.234},"y":{"datum":4.4},"y2":{"datum":5.7}}},
  {"data":{"values":[{}]},"mark":{"type":"point","shape":"triangle-down","size":22,"filled":true,"color":"black","opacity":1},"encoding":{"x":{"datum":0.234},"y":{"datum":5.85}}},
  {"data":{"values":[{}]},"mark":{"type":"text","text":"P2","fontSize":27,"baseline":"middle","color":"#222"},"encoding":{"x":{"datum":0.234},"y":{"datum":6.9}}},
  {"data":{"values":[{}]},"mark":{"type":"rule","color":"black","strokeWidth":1},"encoding":{"x":{"datum":0.441},"y":{"datum":2.97},"y2":{"datum":4.6}}},
  {"data":{"values":[{}]},"mark":{"type":"point","shape":"triangle-down","size":22,"filled":true,"color":"black","opacity":1},"encoding":{"x":{"datum":0.441},"y":{"datum":4.75}}},
  {"data":{"values":[{}]},"mark":{"type":"text","text":"P300","fontSize":27,"baseline":"middle","color":"#222"},"encoding":{"x":{"datum":0.574},"y":{"datum":6.0}}}
 ]},
 {"width":330,"height":259,"layer":[
  {"data":{"values":[{}]},"mark":{"type":"rule","color":"black","strokeWidth":3},"encoding":{"x":{"datum":-0.1,"type":"quantitative","scale":{"domain":[-0.231,1.582],"nice":false,"zero":false},"axis":null},"x2":{"datum":1.5},"y":{"datum":0,"type":"quantitative","scale":{"domain":[-10.36,8.54],"reverse":true,"nice":false,"zero":false},"axis":null}}},
  {"data":{"values":[{}]},"mark":{"type":"rule","color":"black","strokeWidth":3.5},"encoding":{"x":{"datum":0},"y":{"datum":-8},"y2":{"datum":8}}},
  {"data":{"name":"y8"},"mark":{"type":"tick","orient":"horizontal","size":20,"thickness":3,"color":"black","opacity":1},"encoding":{"x":{"datum":0},"y":{"field":"v","type":"quantitative"}}},
  {"data":{"name":"y8"},"mark":{"type":"text","fontSize":7,"align":"right","baseline":"middle","dx":-10,"color":"#555"},"encoding":{"x":{"datum":0},"y":{"field":"v","type":"quantitative"},"text":{"field":"lab"}}},
  {"data":{"name":"xt"},"mark":{"type":"tick","orient":"vertical","size":20,"thickness":3,"color":"black","opacity":1},"encoding":{"x":{"field":"t","type":"quantitative"},"y":{"datum":0}}},
  {"data":{"name":"xt"},"mark":{"type":"text","fontSize":7,"dy":14,"color":"#555"},"encoding":{"x":{"field":"t","type":"quantitative"},"y":{"datum":0},"text":{"field":"lab"}}},
  {"data":{"name":"L4"},"transform":[{"fold":["Vis","Aud"],"as":["k","uV"]}],"mark":{"type":"line","strokeWidth":2.8,"strokeJoin":"round"},"encoding":{"x":{"field":"t","type":"quantitative"},"y":{"field":"uV","type":"quantitative"},"color":{"field":"k","type":"nominal","scale":{"domain":["Vis","Aud"],"range":["#1a2490","#e8141c"]},"legend":{"orient":"bottom-right","offset":6,"title":null,"labelFont":"Open Sans","labelFontSize":20,"labelColor":"#222","symbolType":"M-2,0H2","symbolSize":361,"symbolStrokeWidth":2.8,"labelOffset":18,"rowPadding":7,"labelExpr":"datum.label == 'Vis' ? 'Visual' : 'Auditory'"}}}},
  {"data":{"values":[{}]},"mark":{"type":"text","text":"Fz","fontSize":23,"align":"right","baseline":"middle","color":"#222"},"encoding":{"x":{"datum":1.489},"y":{"datum":-7.45}}},
  {"data":{"values":[{}]},"mark":{"type":"rule","color":"black","strokeWidth":1},"encoding":{"x":{"datum":0.297},"y":{"datum":-4.67},"x2":{"datum":0.352},"y2":{"datum":-6.3}}},
  {"data":{"values":[{}]},"mark":{"type":"point","shape":"triangle-up","angle":24,"size":22,"filled":true,"color":"black","opacity":1},"encoding":{"x":{"datum":0.356},"y":{"datum":-6.45}}},
  {"data":{"values":[{}]},"mark":{"type":"text","text":"N300","fontSize":27,"baseline":"middle","color":"#222"},"encoding":{"x":{"datum":0.346},"y":{"datum":-7.37}}},
  {"data":{"values":[{}]},"mark":{"type":"rule","color":"black","strokeWidth":1},"encoding":{"x":{"datum":0.401},"y":{"datum":3.94},"y2":{"datum":5.25}}},
  {"data":{"values":[{}]},"mark":{"type":"point","shape":"triangle-down","size":22,"filled":true,"color":"black","opacity":1},"encoding":{"x":{"datum":0.401},"y":{"datum":5.4}}},
  {"data":{"values":[{}]},"mark":{"type":"text","text":"P300","fontSize":27,"baseline":"middle","color":"#222"},"encoding":{"x":{"datum":0.533},"y":{"datum":6.42}}}
 ]}
 ]},
{"title":{"text":"Imagery","font":"Liberation Sans","fontSize":37,"fontWeight":"normal","color":"#000","anchor":"middle","dx":-6,"offset":4},
 "spacing":0,"bounds":"flush",
 "resolve":{"scale":{"x":"independent","y":"independent","color":"independent"},"legend":{"color":"independent"}},
 "vconcat":[
 {"width":332,"height":272,"layer":[
  {"data":{"values":[{}]},"mark":{"type":"rule","color":"black","strokeWidth":3},"encoding":{"x":{"datum":-0.1,"type":"quantitative","scale":{"domain":[-0.353,1.451],"nice":false,"zero":false},"axis":null},"x2":{"datum":1.38},"y":{"datum":0,"type":"quantitative","scale":{"domain":[-8.18,8.93],"reverse":true,"nice":false,"zero":false},"axis":null}}},
  {"data":{"values":[{}]},"mark":{"type":"rule","color":"black","strokeWidth":3.5},"encoding":{"x":{"datum":0},"y":{"datum":-6},"y2":{"datum":6}}},
  {"data":{"name":"y6"},"mark":{"type":"tick","orient":"horizontal","size":20,"thickness":3,"color":"black","opacity":1},"encoding":{"x":{"datum":0},"y":{"field":"v","type":"quantitative"}}},
  {"data":{"name":"y6"},"mark":{"type":"text","fontSize":7,"align":"right","baseline":"middle","dx":-11,"color":"#555"},"encoding":{"x":{"datum":0},"y":{"field":"v","type":"quantitative"},"text":{"field":"lab"}}},
  {"data":{"name":"xt"},"mark":{"type":"tick","orient":"vertical","size":20,"thickness":3,"color":"black","opacity":1},"encoding":{"x":{"field":"t","type":"quantitative"},"y":{"datum":0}}},
  {"data":{"name":"xt"},"mark":{"type":"text","fontSize":7,"dy":14,"color":"#555"},"encoding":{"x":{"field":"t","type":"quantitative"},"y":{"datum":0},"text":{"field":"lab"}}},
  {"data":{"name":"R1"},"transform":[{"fold":["V","M","S"],"as":["k","uV"]}],"mark":{"type":"line","strokeWidth":2.8,"strokeJoin":"round"},"encoding":{"x":{"field":"t","type":"quantitative"},"y":{"field":"uV","type":"quantitative"},"color":{"field":"k","type":"nominal","scale":{"domain":["V","M","S"],"range":["#1f2a8e","#17903a","#e8197c"]},"legend":null}}},
  {"data":{"values":[{}]},"mark":{"type":"text","text":"P3","fontSize":23,"align":"left","baseline":"middle","color":"#222"},"encoding":{"x":{"datum":-0.07},"y":{"datum":-7.1}}},
  {"data":{"values":[{}]},"mark":{"type":"rule","color":"black","strokeWidth":1},"encoding":{"x":{"datum":0.478},"y":{"datum":0.75},"y2":{"datum":1.7}}},
  {"data":{"values":[{}]},"mark":{"type":"point","shape":"triangle-down","size":20,"filled":true,"color":"black","opacity":1},"encoding":{"x":{"datum":0.478},"y":{"datum":1.82}}},
  {"data":{"values":[{}]},"mark":{"type":"text","text":"P2-like","fontSize":23,"baseline":"middle","color":"#222"},"encoding":{"x":{"datum":0.571},"y":{"datum":2.96}}}
 ]},
 {"width":332,"height":260,"layer":[
  {"data":{"values":[{}]},"mark":{"type":"rule","color":"black","strokeWidth":3},"encoding":{"x":{"datum":-0.1,"type":"quantitative","scale":{"domain":[-0.356,1.552],"nice":false,"zero":false},"axis":null},"x2":{"datum":1.49},"y":{"datum":0,"type":"quantitative","scale":{"domain":[-8.45,8.32],"reverse":true,"nice":false,"zero":false},"axis":null}}},
  {"data":{"values":[{}]},"mark":{"type":"rule","color":"black","strokeWidth":3.5},"encoding":{"x":{"datum":0},"y":{"datum":-6},"y2":{"datum":6}}},
  {"data":{"name":"y6"},"mark":{"type":"tick","orient":"horizontal","size":20,"thickness":3,"color":"black","opacity":1},"encoding":{"x":{"datum":0},"y":{"field":"v","type":"quantitative"}}},
  {"data":{"name":"y6"},"mark":{"type":"text","fontSize":7,"align":"right","baseline":"middle","dx":-11,"color":"#555"},"encoding":{"x":{"datum":0},"y":{"field":"v","type":"quantitative"},"text":{"field":"lab"}}},
  {"data":{"name":"xt"},"mark":{"type":"tick","orient":"vertical","size":20,"thickness":3,"color":"black","opacity":1},"encoding":{"x":{"field":"t","type":"quantitative"},"y":{"datum":0}}},
  {"data":{"name":"xt"},"mark":{"type":"text","fontSize":7,"dy":14,"color":"#555"},"encoding":{"x":{"field":"t","type":"quantitative"},"y":{"datum":0},"text":{"field":"lab"}}},
  {"data":{"name":"R2"},"transform":[{"fold":["V","M","S"],"as":["k","uV"]}],"mark":{"type":"line","strokeWidth":2.8,"strokeJoin":"round"},"encoding":{"x":{"field":"t","type":"quantitative"},"y":{"field":"uV","type":"quantitative"},"color":{"field":"k","type":"nominal","scale":{"domain":["V","M","S"],"range":["#1f2a8e","#17903a","#e8197c"]},"legend":null}}},
  {"data":{"values":[{}]},"mark":{"type":"text","text":"AF3","fontSize":23,"align":"left","baseline":"middle","color":"#222"},"encoding":{"x":{"datum":-0.086},"y":{"datum":-7.35}}},
  {"data":{"values":[{}]},"mark":{"type":"rule","color":"black","strokeWidth":1},"encoding":{"x":{"datum":0.77},"y":{"datum":1.87},"y2":{"datum":3.2}}},
  {"data":{"values":[{}]},"mark":{"type":"point","shape":"triangle-down","size":20,"filled":true,"color":"black","opacity":1},"encoding":{"x":{"datum":0.77},"y":{"datum":3.33}}},
  {"data":{"values":[{}]},"mark":{"type":"text","text":"P300-like","fontSize":23,"baseline":"middle","color":"#222"},"encoding":{"x":{"datum":0.787},"y":{"datum":4.1}}}
 ]},
 {"width":332,"height":272,"layer":[
  {"data":{"values":[{}]},"mark":{"type":"rule","color":"black","strokeWidth":3},"encoding":{"x":{"datum":-0.1,"type":"quantitative","scale":{"domain":[-0.351,1.625],"nice":false,"zero":false},"axis":null},"x2":{"datum":1.5},"y":{"datum":0,"type":"quantitative","scale":{"domain":[-9.27,8.74],"reverse":true,"nice":false,"zero":false},"axis":null}}},
  {"data":{"values":[{}]},"mark":{"type":"rule","color":"black","strokeWidth":3.5},"encoding":{"x":{"datum":0},"y":{"datum":-6},"y2":{"datum":6}}},
  {"data":{"name":"y6"},"mark":{"type":"tick","orient":"horizontal","size":20,"thickness":3,"color":"black","opacity":1},"encoding":{"x":{"datum":0},"y":{"field":"v","type":"quantitative"}}},
  {"data":{"name":"y6"},"mark":{"type":"text","fontSize":7,"align":"right","baseline":"middle","dx":-11,"color":"#555"},"encoding":{"x":{"datum":0},"y":{"field":"v","type":"quantitative"},"text":{"field":"lab"}}},
  {"data":{"name":"xt"},"mark":{"type":"tick","orient":"vertical","size":20,"thickness":3,"color":"black","opacity":1},"encoding":{"x":{"field":"t","type":"quantitative"},"y":{"datum":0}}},
  {"data":{"name":"xt"},"mark":{"type":"text","fontSize":7,"dy":14,"color":"#555"},"encoding":{"x":{"field":"t","type":"quantitative"},"y":{"datum":0},"text":{"field":"lab"}}},
  {"data":{"name":"R3"},"transform":[{"fold":["V","M","S"],"as":["k","uV"]}],"mark":{"type":"line","strokeWidth":2.8,"strokeJoin":"round"},"encoding":{"x":{"field":"t","type":"quantitative"},"y":{"field":"uV","type":"quantitative"},"color":{"field":"k","type":"nominal","scale":{"domain":["V","M","S"],"range":["#1f2a8e","#17903a","#e8197c"]},"legend":null}}},
  {"data":{"values":[{}]},"mark":{"type":"text","text":"FFC1h","fontSize":23,"align":"left","baseline":"middle","color":"#222"},"encoding":{"x":{"datum":-0.101},"y":{"datum":-7.15}}},
  {"data":{"values":[{}]},"mark":{"type":"rule","color":"black","strokeWidth":1},"encoding":{"x":{"datum":0.5},"y":{"datum":-2.19},"x2":{"datum":0.537},"y2":{"datum":-3.5}}},
  {"data":{"values":[{}]},"mark":{"type":"point","shape":"triangle-up","angle":17,"size":20,"filled":true,"color":"black","opacity":1},"encoding":{"x":{"datum":0.541},"y":{"datum":-3.62}}},
  {"data":{"values":[{}]},"mark":{"type":"text","text":"N400-like","fontSize":23,"baseline":"middle","color":"#222"},"encoding":{"x":{"datum":0.607},"y":{"datum":-4.5}}}
 ]},
 {"width":332,"height":259,"layer":[
  {"data":{"values":[{}]},"mark":{"type":"rule","color":"black","strokeWidth":3},"encoding":{"x":{"datum":-0.1,"type":"quantitative","scale":{"domain":[-0.374,1.659],"nice":false,"zero":false},"axis":null},"x2":{"datum":1.5},"y":{"datum":0,"type":"quantitative","scale":{"domain":[-8.73,6.97],"reverse":true,"nice":false,"zero":false},"axis":null}}},
  {"data":{"values":[{}]},"mark":{"type":"rule","color":"black","strokeWidth":3.5},"encoding":{"x":{"datum":0},"y":{"datum":-6},"y2":{"datum":4}}},
  {"data":{"name":"y64"},"mark":{"type":"tick","orient":"horizontal","size":20,"thickness":3,"color":"black","opacity":1},"encoding":{"x":{"datum":0},"y":{"field":"v","type":"quantitative"}}},
  {"data":{"name":"y64"},"mark":{"type":"text","fontSize":7,"align":"right","baseline":"middle","dx":-11,"color":"#555"},"encoding":{"x":{"datum":0},"y":{"field":"v","type":"quantitative"},"text":{"field":"lab"}}},
  {"data":{"name":"xt"},"mark":{"type":"tick","orient":"vertical","size":20,"thickness":3,"color":"black","opacity":1},"encoding":{"x":{"field":"t","type":"quantitative"},"y":{"datum":0}}},
  {"data":{"name":"xt"},"mark":{"type":"text","fontSize":7,"dy":14,"color":"#555"},"encoding":{"x":{"field":"t","type":"quantitative"},"y":{"datum":0},"text":{"field":"lab"}}},
  {"data":{"values":[{}]},"mark":{"type":"rule","color":"black","strokeWidth":2.5},"encoding":{"x":{"datum":-0.11},"x2":{"datum":1.5},"y":{"datum":4.7}}},
  {"data":{"name":"xb"},"mark":{"type":"tick","orient":"vertical","size":12,"thickness":3,"color":"black","opacity":1},"encoding":{"x":{"field":"t","type":"quantitative"},"y":{"datum":4.7}}},
  {"data":{"name":"xb"},"mark":{"type":"text","font":"Liberation Serif","fontSize":12,"dy":15,"color":"#111"},"encoding":{"x":{"field":"t","type":"quantitative"},"y":{"datum":4.7},"text":{"field":"lab"}}},
  {"data":{"values":[{}]},"mark":{"type":"text","text":"1,5 sec","font":"Liberation Serif","fontSize":12,"align":"left","dx":-17,"dy":15,"color":"#111"},"encoding":{"x":{"datum":1.5},"y":{"datum":4.7}}},
  {"data":{"name":"R4"},"transform":[{"fold":["Vis","Aud"],"as":["k","uV"]}],"mark":{"type":"line","strokeWidth":2.8,"strokeJoin":"round"},"encoding":{"x":{"field":"t","type":"quantitative"},"y":{"field":"uV","type":"quantitative"},"color":{"field":"k","type":"nominal","scale":{"domain":["Vis","Aud"],"range":["#1a2490","#e8141c"]},"legend":null}}},
  {"data":{"values":[{}]},"mark":{"type":"text","text":"Fz","fontSize":23,"align":"left","baseline":"middle","color":"#222"},"encoding":{"x":{"datum":-0.11},"y":{"datum":-7.2}}},
  {"data":{"values":[{}]},"mark":{"type":"text","text":"PN300","fontSize":23,"baseline":"middle","color":"#222"},"encoding":{"x":{"datum":0.398},"y":{"datum":-3.58}}}
 ]}
 ]}
],
"spacing":0,
"resolve":{"scale":{"x":"independent","y":"independent","color":"independent"},"legend":{"color":"independent"}}
}
